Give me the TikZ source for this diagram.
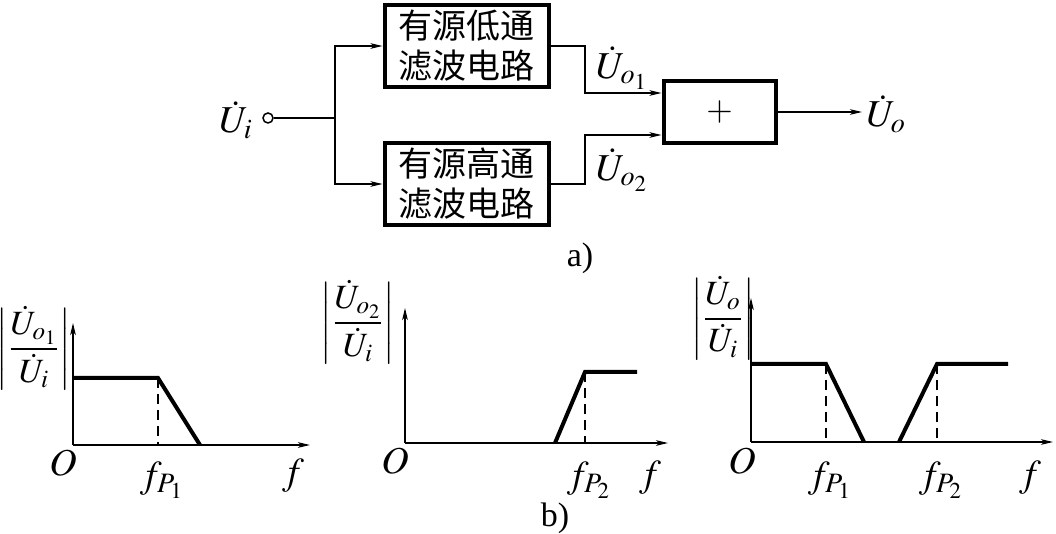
\documentclass[tikz,border=0pt]{standalone}
\usepackage{mathptmx}
\usepackage{amsmath}
\usepackage{fontspec}
\newfontfamily\tnr{Liberation Serif}
\newfontfamily\cjk{Noto Sans CJK SC}
\usetikzlibrary{arrows.meta}
\begin{document}
\begin{tikzpicture}[x=0.5pt,y=-0.5pt,
  thin line/.style={line width=0.75pt},
  arr/.style={thin line,-{Stealth[length=6pt,width=2.8pt,inset=1.5pt]}},
  blockbox/.style={draw,line width=2pt,minimum width=82pt,minimum height=41pt,align=center,inner sep=0pt,font=\cjk\fontsize{17}{22}\selectfont},
  curve/.style={line width=2pt,line join=miter},
  dashline/.style={thin line,dash pattern=on 5pt off 3pt},
  lbl/.style={inner sep=0pt,font=\fontsize{17}{20}\selectfont},
  big/.style={inner sep=0pt,font=\fontsize{19}{22}\selectfont},
  captext/.style={inner sep=0pt,font=\tnr\fontsize{17}{20}\selectfont}]
\useasboundingbox (0,0) rectangle (1056,534);
% ---- a) block diagram
\node[blockbox] (lp) at (466.5,46) {有源低通\\[-2pt]滤波电路};
\node[blockbox] (hp) at (466.5,184) {有源高通\\[-2pt]滤波电路};
\node[draw,line width=2pt,minimum width=56pt,minimum height=31pt,inner sep=0pt] (sum) at (719.5,112) {};
\node[lbl] (plus) at (sum.center) {$+$};
\node[circle,draw,thin line,inner sep=0pt,minimum size=5pt] (in) at (268,118) {};
\node[big] (ui) at (236,120) {$\dot{U}_i$};
\coordinate (br) at (335,118);
\draw[thin line] (in) -- (br);
\draw[arr] (br) |- (lp.west);
\draw[arr] (br) |- (hp.west);
\coordinate (j1) at (585,93);
\coordinate (j2) at (585,135);
\draw[arr] (lp.east) -| (j1) -- (j1 -| sum.west);
\draw[arr] (hp.east) -| (j2) -- (j2 -| sum.west);
\coordinate (out) at (862,112);
\draw[arr] (sum.east) -- (out);
\node[big] (uo1) at (622,68) {$\dot{U}_{o_1}$};
\node[big] (uo2) at (622,170) {$\dot{U}_{o_2}$};
\node[big,anchor=west] (uo) at (866,114) {$\dot{U}_o$};
\node[captext] (capa) at (580,258) {a)};
% ---- b) graph 1
\coordinate (o1) at (73,445);
\draw[arr] (o1) -- (73,323);
\draw[arr] (o1) -- (310,445);
\draw[curve] (73,378) -- (158,378) -- (200,445);
\draw[dashline] (158,378) -- (158,445);
\node[lbl] (g1) at (34,348) {$\left|\dfrac{\dot U_{o_1}}{\dot U_i}\right|$};
\node[big] (O1) at (63,463) {$O$};
\node[big] (fp11) at (162,480) {$f_{P_1}$};
\node[big] (f1) at (293,476) {$f$};
% ---- graph 2
\coordinate (o2) at (405,443);
\draw[arr] (o2) -- (405,308);
\draw[arr] (o2) -- (668,443);
\draw[curve] (555,443) -- (585,372) -- (637,372);
\draw[dashline] (585,372) -- (585,443);
\node[lbl] (g2) at (358,322) {$\left|\dfrac{\dot U_{o_2}}{\dot U_i}\right|$};
\node[big] (O2) at (395,461) {$O$};
\node[big] (fp22) at (589,480) {$f_{P_2}$};
\node[big] (f2) at (650,478) {$f$};
% ---- graph 3
\coordinate (o3) at (751,442);
\draw[arr] (o3) -- (751,298);
\draw[arr] (o3) -- (1053,442);
\draw[curve] (751,364) -- (826,364) -- (864,442);
\draw[curve] (899,442) -- (937,364) -- (1008,364);
\draw[dashline] (826,364) -- (826,442);
\draw[dashline] (937,364) -- (937,442);
\node[lbl] (g3) at (723,318) {$\left|\dfrac{\dot U_{o}}{\dot U_i}\right|$};
\node[big] (O3) at (742,461) {$O$};
\node[big] (fp31) at (830,480) {$f_{P_1}$};
\node[big] (fp32) at (941,480) {$f_{P_2}$};
\node[big] (f3) at (1030,478) {$f$};
\node[captext] (capb) at (555,518) {b)};
\end{tikzpicture}
\end{document}
